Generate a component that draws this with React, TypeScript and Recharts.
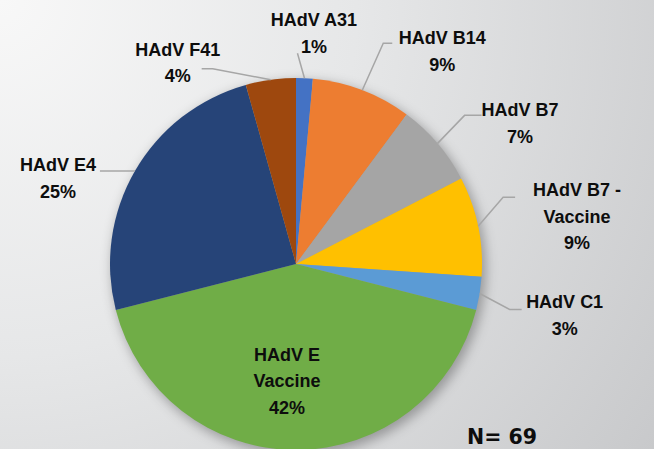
import { PieChart, Pie, Cell } from "recharts";

// adenovirus types, clockwise from 12 o'clock
const categories = [
  "HAdV A31",
  "HAdV B14",
  "HAdV B7",
  "HAdV B7 -\nVaccine",
  "HAdV C1",
  "HAdV E\nVaccine",
  "HAdV E4",
  "HAdV F41",
];
const counts = [1, 6, 5, 6, 2, 29, 17, 3];
const sliceColors = ["#4472C4", "#ED7D31", "#A5A5A5", "#FFC000", "#5B9BD5", "#70AD47", "#264478", "#9E480E"];

// manual label placement (like Excel's), relative to the slice edge
const labelLayout = [
  { bx: -7, by: -25, run: 0, tx: 16.5, ty: -19.5, line: true },
  { bx: 21, by: -47, run: 9, tx: 50, ty: 8.5, line: true },
  { bx: 27, by: -28, run: 17, tx: 38.5, ty: 8, line: true },
  { bx: 25, by: -29, run: 12, tx: 62, ty: 19.7, line: true },
  { bx: 30, by: 16, run: 12, tx: 43, ty: 6.2, line: true },
  { bx: 0, by: 0, run: 0, tx: -9, ty: -69, line: false },
  { bx: 0, by: 0, run: -35, tx: -42, ty: 7.3, line: true },
  { bx: -58, by: -11, run: -11, tx: -24, ty: -5.7, line: true },
];

const total = counts.reduce((a, b) => a + b, 0);
const chartData = categories.map((name, i) => ({ name, value: counts[i] }));
const shadowData = [{ name: "all", value: total }];

const RAD = Math.PI / 180;
const LINE_H = 26.5;

const renderLabel = (props: any) => {
  const { cx, cy, midAngle, outerRadius, index, value } = props;
  const lay = labelLayout[index];
  const ex = cx + outerRadius * Math.cos(-midAngle * RAD);
  const ey = cy + outerRadius * Math.sin(-midAngle * RAD);
  const bx = ex + lay.bx;
  const by = ey + lay.by;
  const endX = bx + lay.run;
  const X = endX + lay.tx;
  const Y = by + lay.ty;
  const lines = [...categories[index].split("\n"), `${Math.round((value / total) * 100)}%`];
  const firstY = Y - ((lines.length - 1) * LINE_H) / 2;
  return (
    <g key={`lbl-${index}`}>
      {lay.line && (
        <polyline
          points={`${ex},${ey} ${bx},${by} ${endX},${by}`}
          fill="none"
          stroke="#A6A6A6"
          strokeWidth={1.5}
        />
      )}
      <text
        x={X}
        y={firstY}
        textAnchor="middle"
        fontFamily="'Liberation Sans', Arial, sans-serif"
        fontWeight="bold"
        fontSize={18}
        fill="#0D0D0D"
      >
        {lines.map((t, i) => (
          <tspan key={i} x={X} y={firstY + i * LINE_H + 6}>
            {t}
          </tspan>
        ))}
      </text>
    </g>
  );
};

export default function App() {
  return (
    <div
      style={{
        width: 654,
        height: 449,
        position: "relative",
        background: "radial-gradient(circle farthest-corner at 0% 0%, #f8f8f8 0%, #e6e7e8 45%, #c8c9cb 100%)",
      }}
    >
      <style>{`body{margin:0}`}</style>
      <PieChart width={654} height={449} margin={{ top: 0, right: 0, bottom: 0, left: 0 }}>
        <defs>
          <filter id="pieShadow" x="-20%" y="-20%" width="140%" height="140%">
            <feGaussianBlur stdDeviation="6" />
          </filter>
        </defs>
        <Pie
          data={shadowData}
          dataKey="value"
          cx={299}
          cy={268}
          outerRadius={187}
          startAngle={90}
          endAngle={-270}
          stroke="none"
          isAnimationActive={false}
          label={false}
          labelLine={false}
        >
          <Cell fill="#000000" fillOpacity={0.3} filter="url(#pieShadow)" />
        </Pie>
        <Pie
          data={chartData}
          dataKey="value"
          nameKey="name"
          cx={296}
          cy={264}
          outerRadius={186}
          startAngle={90}
          endAngle={-270}
          stroke="none"
          isAnimationActive={false}
          labelLine={false}
          label={renderLabel}
        >
          {chartData.map((d, i) => (
            <Cell key={d.name} fill={sliceColors[i]} />
          ))}
        </Pie>
        <text
          x={467}
          y={444}
          fontFamily="'DejaVu Sans', Verdana, sans-serif"
          fontWeight="bold"
          fontSize={20.5}
          fill="#0D0D0D"
        >
          N= 69
        </text>
      </PieChart>
    </div>
  );
}
